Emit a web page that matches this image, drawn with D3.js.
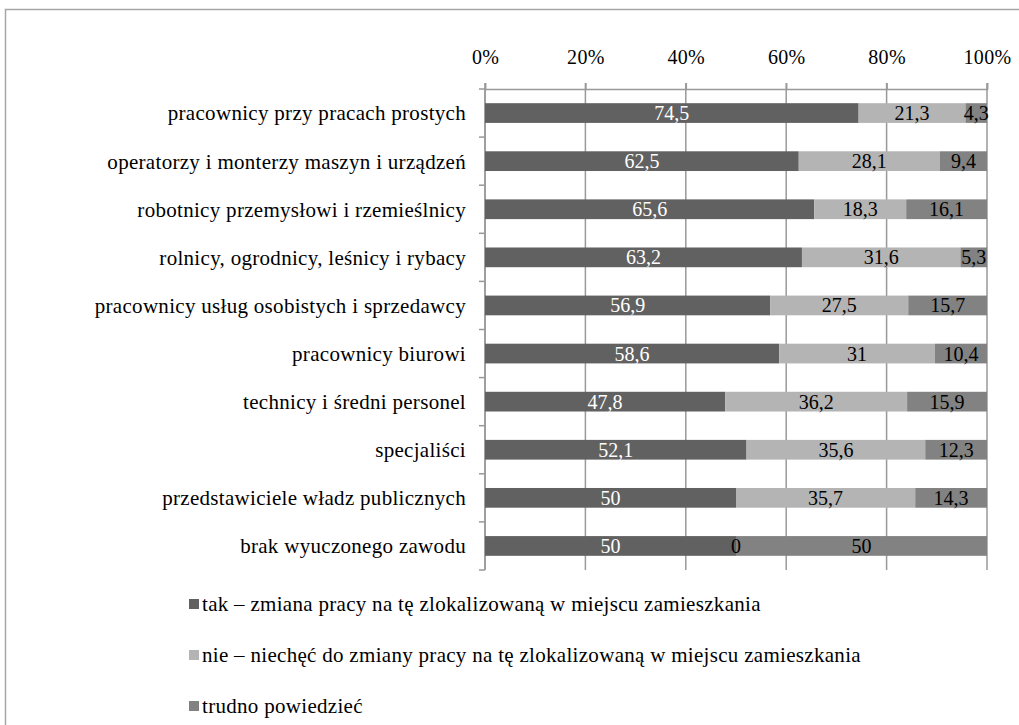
<!DOCTYPE html>
<html><head><meta charset="utf-8">
<script src="https://cdn.jsdelivr.net/npm/d3@7/dist/d3.min.js"></script>
<style>
html,body{margin:0;padding:0;background:#fff;}
svg text{font-family:"Liberation Serif","Tinos","Times New Roman","DejaVu Serif",serif !important;}
</style></head>
<body>
<svg id="c" width="1019" height="725"></svg>
<script>
const categories = [
  "pracownicy przy pracach prostych",
  "operatorzy i monterzy maszyn i urządzeń",
  "robotnicy przemysłowi i rzemieślnicy",
  "rolnicy, ogrodnicy, leśnicy i rybacy",
  "pracownicy usług osobistych i sprzedawcy",
  "pracownicy biurowi",
  "technicy i średni personel",
  "specjaliści",
  "przedstawiciele władz publicznych",
  "brak wyuczonego zawodu"
];
const seriesNames = [
  "tak – zmiana pracy na tę zlokalizowaną w miejscu zamieszkania",
  "nie – niechęć do zmiany pracy na tę zlokalizowaną w miejscu zamieszkania",
  "trudno powiedzieć"
];
const tak = [74.5, 62.5, 65.6, 63.2, 56.9, 58.6, 47.8, 52.1, 50, 50];
const nie = [21.3, 28.1, 18.3, 31.6, 27.5, 31, 36.2, 35.6, 35.7, 0];
const trudno = [4.3, 9.4, 16.1, 5.3, 15.7, 10.4, 15.9, 12.3, 14.3, 50];
const tickLabels = ["0%", "20%", "40%", "60%", "80%", "100%"];
const colors = ["#616161", "#b4b4b4", "#828282"];
const labelColors = ["#ffffff", "#000000", "#000000"];

(function () {
const FF = "Liberation Serif, Tinos, Times New Roman, DejaVu Serif, serif";
const svg = d3.select("#c");
const pL = 485, pR = 987, pT = 89, pB = 570;

// outer frame
svg.append("path").attr("d", "M5.5,725 L5.5,9.5 L1019,9.5")
  .attr("fill", "none").attr("stroke", "#a6a6a6").attr("stroke-width", 1.5);

const x = d3.scaleLinear().domain([0, 1]).range([pL, pR]);
const y = d3.scaleBand().domain(categories).range([pT, pB]).paddingInner(0.59).paddingOuter(0.295);
const yb = d3.scaleBand().domain(categories).range([pT, pB]);

const tickVals = [0, 0.2, 0.4, 0.6, 0.8, 1];
// gridlines
svg.append("g").selectAll("line").data(tickVals).join("line")
  .attr("x1", d => x(d)).attr("x2", d => x(d))
  .attr("y1", pT - 6).attr("y2", pB)
  .attr("stroke", "#999").attr("stroke-width", 1.5);

// top axis
const xAxis = svg.append("g").attr("transform", `translate(0,${pT})`)
  .call(d3.axisTop(x).tickValues(tickVals).tickFormat((d, i) => tickLabels[i]).tickSize(6).tickPadding(19));
xAxis.attr("font-family", FF).attr("font-size", 20);
xAxis.select(".domain").attr("stroke", "#999").attr("stroke-width", 1.5);
xAxis.selectAll(".tick line").attr("stroke", "#999").attr("stroke-width", 1.5);
xAxis.selectAll("text").attr("fill", "#000").style("letter-spacing", "0.3px");

// left axis line + ticks at band boundaries
svg.append("line").attr("x1", pL).attr("x2", pL).attr("y1", pT).attr("y2", pB)
  .attr("stroke", "#999").attr("stroke-width", 1.5);
const bounds = categories.map(c => yb(c)).concat([pB]);
svg.append("g").selectAll("line").data(bounds).join("line")
  .attr("x1", pL - 6).attr("x2", pL).attr("y1", d => d).attr("y2", d => d)
  .attr("stroke", "#999").attr("stroke-width", 1.5);

// category labels
svg.append("g").selectAll("text").data(categories).join("text")
  .attr("x", 466).attr("y", d => yb(d) + yb.bandwidth() / 2)
  .attr("dy", "0.35em").attr("text-anchor", "end").attr("font-family", FF)
  .attr("font-size", 21).style("letter-spacing", "0.3px").attr("fill", "#000")
  .text(d => d);

// stacked data
const rows = categories.map((c, i) => ({cat: c, a: tak[i], b: nie[i], c: trudno[i]}));
const stack = d3.stack().keys(["a", "b", "c"]).offset(d3.stackOffsetExpand);
const stacked = stack(rows);

const bars = svg.append("g");
stacked.forEach((s, si) => {
  bars.append("g").selectAll("rect").data(s).join("rect")
    .attr("x", d => x(d[0])).attr("width", d => x(d[1]) - x(d[0]))
    .attr("y", d => y(d.data.cat)).attr("height", y.bandwidth())
    .attr("fill", colors[si]);
});
stacked.forEach((s, si) => {
  bars.append("g").selectAll("text").data(s).join("text")
    .attr("x", d => (x(d[0]) + x(d[1])) / 2)
    .attr("y", d => y(d.data.cat) + y.bandwidth() / 2)
    .attr("dy", "0.35em").attr("text-anchor", "middle").attr("font-family", FF)
    .attr("font-size", 20).attr("fill", labelColors[si])
    .text(d => String(d.data[s.key]).replace(".", ","));
});

// legend
const lg = svg.append("g");
seriesNames.forEach((n, i) => {
  const cy = 604 + i * 51;
  lg.append("rect").attr("x", 189).attr("y", cy - 5).attr("width", 10).attr("height", 10).attr("fill", colors[i]);
  lg.append("text").attr("x", 202).attr("y", cy).attr("dy", "0.35em").attr("font-family", FF)
    .attr("font-size", 21).style("letter-spacing", "0.3px").attr("fill", "#000").text(n);
});
})();
</script>
</body></html>
